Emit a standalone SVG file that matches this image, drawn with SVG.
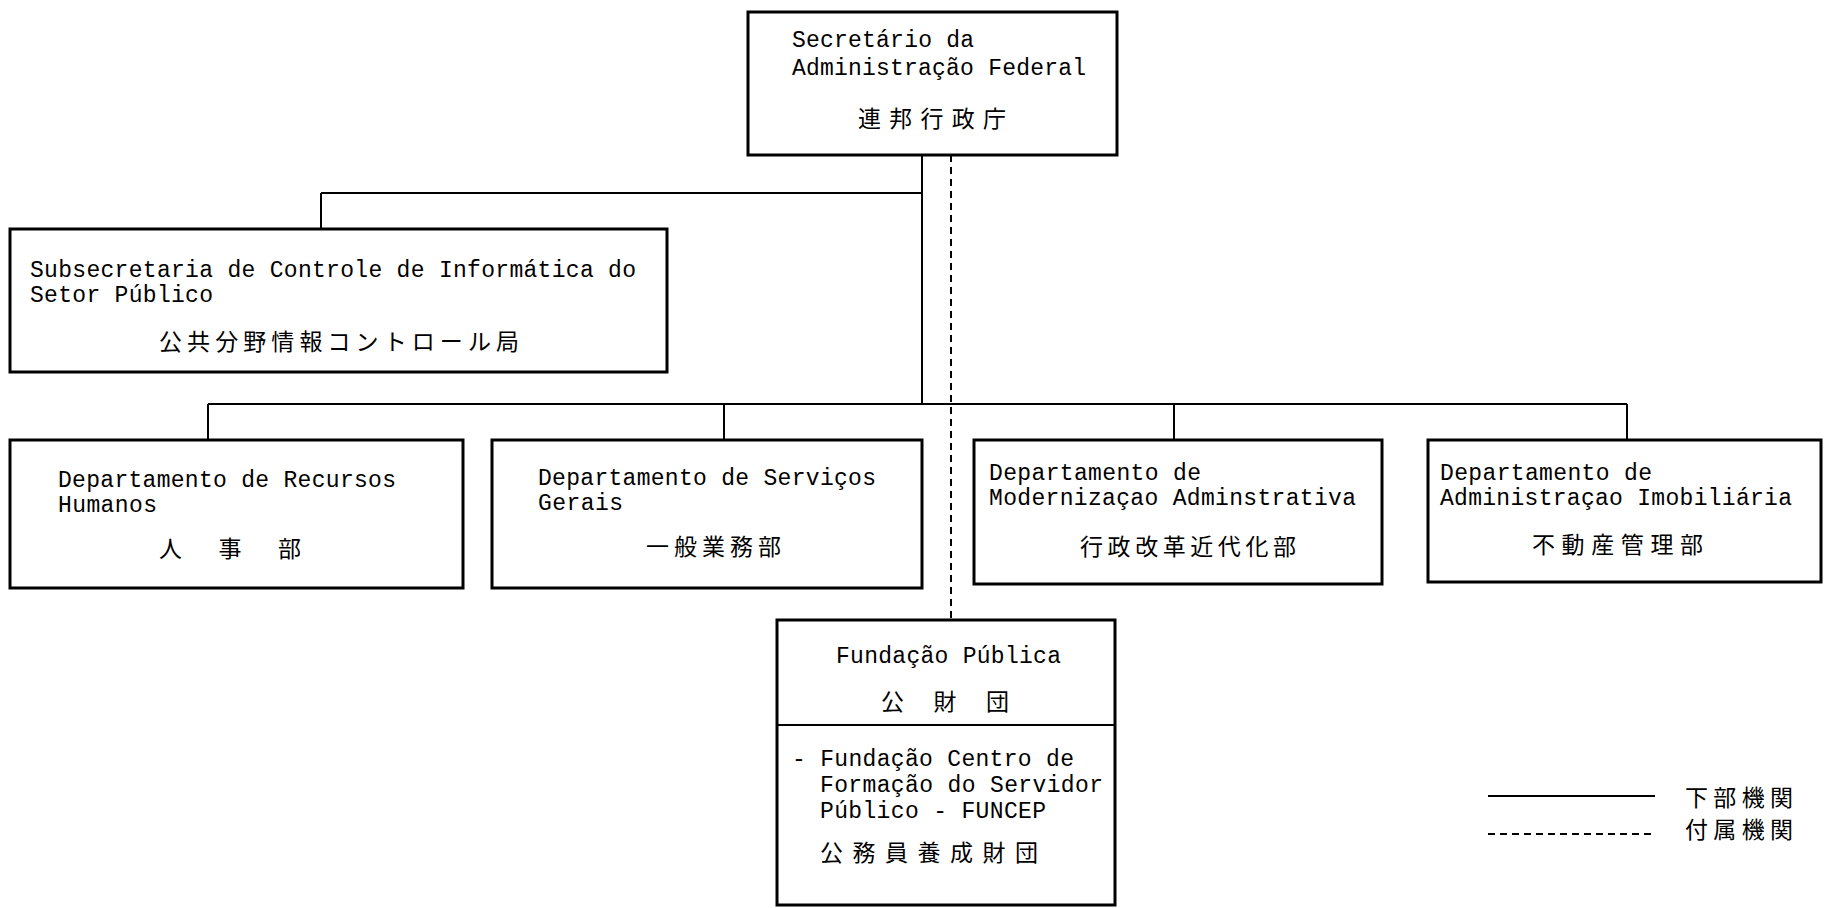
<svg xmlns="http://www.w3.org/2000/svg" width="1825" height="908" viewBox="0 0 1825 908">
<style>
.box{fill:#fff;stroke:#000;stroke-width:3}
.ln{fill:none;stroke:#000;stroke-width:2}
.dash{fill:none;stroke:#000;stroke-width:2;stroke-dasharray:7 5}
.lat{font-family:"Liberation Mono","DejaVu Sans Mono",monospace;font-size:23px;fill:#000}
.jp{font-family:"Noto Sans CJK JP","Noto Sans CJK SC",sans-serif;font-size:23px;fill:#000}
</style>
<rect width="1825" height="908" fill="#fff"/>
<g id="connectors">
<path class="ln" d="M922 155V404M321 193H922M321 193V229M208 404H1627M208 404V440M724 404V440M1174 404V440M1627 404V440"/>
<path class="dash" d="M951 155V620"/>
</g>
<g id="n-secretario">
<rect class="box" x="748" y="12" width="369" height="143"/>
<text class="lat" x="792" y="47" textLength="182">Secretário da</text>
<text class="lat" x="792" y="75" textLength="294">Administração Federal</text>
<text class="jp" x="858" y="127" font-size="25" textLength="148">連邦行政庁</text>
</g>
<g id="n-subsecretaria">
<rect class="box" x="10" y="229" width="657" height="143"/>
<text class="lat" x="30" y="277" textLength="606">Subsecretaria de Controle de Informática do</text>
<text class="lat" x="30" y="302" textLength="183">Setor Público</text>
<text class="jp" x="159" y="350" textLength="360">公共分野情報コントロール局</text>
</g>
<g id="n-rh">
<rect class="box" x="10" y="440" width="453" height="148"/>
<text class="lat" x="58" y="487" textLength="338">Departamento de Recursos</text>
<text class="lat" x="58" y="512" textLength="99">Humanos</text>
<text class="jp" x="159" y="557" textLength="142">人 事 部</text>
</g>
<g id="n-sg">
<rect class="box" x="492" y="440" width="430" height="148"/>
<text class="lat" x="538" y="485" textLength="338">Departamento de Serviços</text>
<text class="lat" x="538" y="510" textLength="85">Gerais</text>
<text class="jp" x="646" y="555" textLength="135">一般業務部</text>
</g>
<g id="n-ma">
<rect class="box" x="974" y="440" width="408" height="144"/>
<text class="lat" x="989" y="480" textLength="212">Departamento de</text>
<text class="lat" x="989" y="505" textLength="367">Modernizaçao Adminstrativa</text>
<text class="jp" x="1080" y="555" textLength="216">行政改革近代化部</text>
</g>
<g id="n-ai">
<rect class="box" x="1428" y="440" width="393" height="142"/>
<text class="lat" x="1440" y="480" textLength="212">Departamento de</text>
<text class="lat" x="1440" y="505" textLength="352">Administraçao Imobiliária</text>
<text class="jp" x="1532" y="553" textLength="171">不動産管理部</text>
</g>
<g id="n-fundacao">
<rect class="box" x="777" y="620" width="338" height="285"/>
<line class="ln" x1="777" y1="725" x2="1115" y2="725" stroke-width="3"/>
<text class="lat" x="836" y="663" textLength="225">Fundação Pública</text>
<text class="jp" x="881" y="710" textLength="128">公 財 団</text>
<text class="lat" x="792" y="766" textLength="282">- Fundação Centro de</text>
<text class="lat" x="820" y="792" textLength="283">Formação do Servidor</text>
<text class="lat" x="820" y="818" textLength="226">Público - FUNCEP</text>
<text class="jp" x="820" y="861" textLength="218">公務員養成財団</text>
</g>
<g id="legend">
<line class="ln" x1="1488" y1="796" x2="1655" y2="796" stroke-width="3"/>
<line class="dash" x1="1488" y1="834" x2="1655" y2="834"/>
<text class="jp" x="1685" y="806" textLength="108">下部機関</text>
<text class="jp" x="1685" y="838" textLength="108">付属機関</text>
</g>
</svg>
